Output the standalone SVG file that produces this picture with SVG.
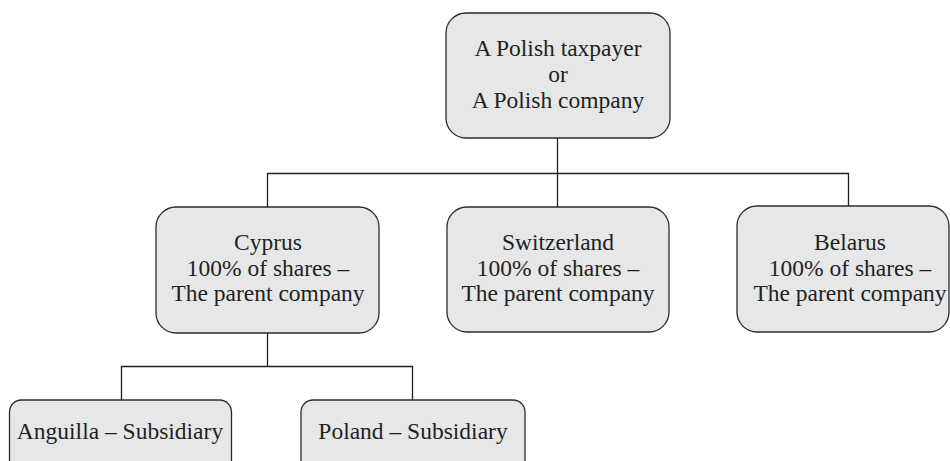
<svg xmlns="http://www.w3.org/2000/svg" width="950" height="461" viewBox="0 0 950 461">
  <style>
    .box { fill: #e6e7e8; stroke: #2b2b2b; stroke-width: 1.3; }
    .lbl { font-size: 23.5px; fill: #231f20; text-anchor: middle; }
    .wire { fill: none; stroke: #231f20; stroke-width: 1.3; }
  </style>
  <rect width="950" height="461" fill="#ffffff"/>

  <g id="connectors">
    <path class="wire" d="M557.5 138 V207 M267.5 207 V173.5 H848.5 V206"/>
    <path class="wire" d="M267.5 333 V366.5 M121.5 400 V366.5 H412.5 V400"/>
  </g>

  <g font-family="Liberation Serif, Tinos, DejaVu Serif, serif">
    <g id="polish-taxpayer">
      <rect class="box" x="446" y="13" width="224" height="125" rx="20"/>
      <text class="lbl" x="558" y="56">A Polish taxpayer</text>
      <text class="lbl" x="558" y="82">or</text>
      <text class="lbl" x="558" y="108">A Polish company</text>
    </g>

    <g id="cyprus">
      <rect class="box" x="156" y="207" width="223" height="126" rx="20"/>
      <text class="lbl" x="268" y="250">Cyprus</text>
      <text class="lbl" x="268" y="276">100% of shares –</text>
      <text class="lbl" x="268" y="301">The parent company</text>
    </g>

    <g id="switzerland">
      <rect class="box" x="447" y="207" width="222" height="125" rx="20"/>
      <text class="lbl" x="558" y="250">Switzerland</text>
      <text class="lbl" x="558" y="276">100% of shares –</text>
      <text class="lbl" x="558" y="301">The parent company</text>
    </g>

    <g id="belarus">
      <rect class="box" x="737" y="206" width="212" height="126" rx="20"/>
      <text class="lbl" x="850" y="250">Belarus</text>
      <text class="lbl" x="850" y="276">100% of shares –</text>
      <text class="lbl" x="850" y="301">The parent company</text>
    </g>

    <g id="anguilla">
      <rect class="box" x="9.5" y="400" width="222" height="80" rx="12"/>
      <text class="lbl" x="120" y="439">Anguilla – Subsidiary</text>
    </g>

    <g id="poland">
      <rect class="box" x="301" y="400" width="224" height="80" rx="12"/>
      <text class="lbl" x="413" y="439">Poland – Subsidiary</text>
    </g>
  </g>
</svg>
